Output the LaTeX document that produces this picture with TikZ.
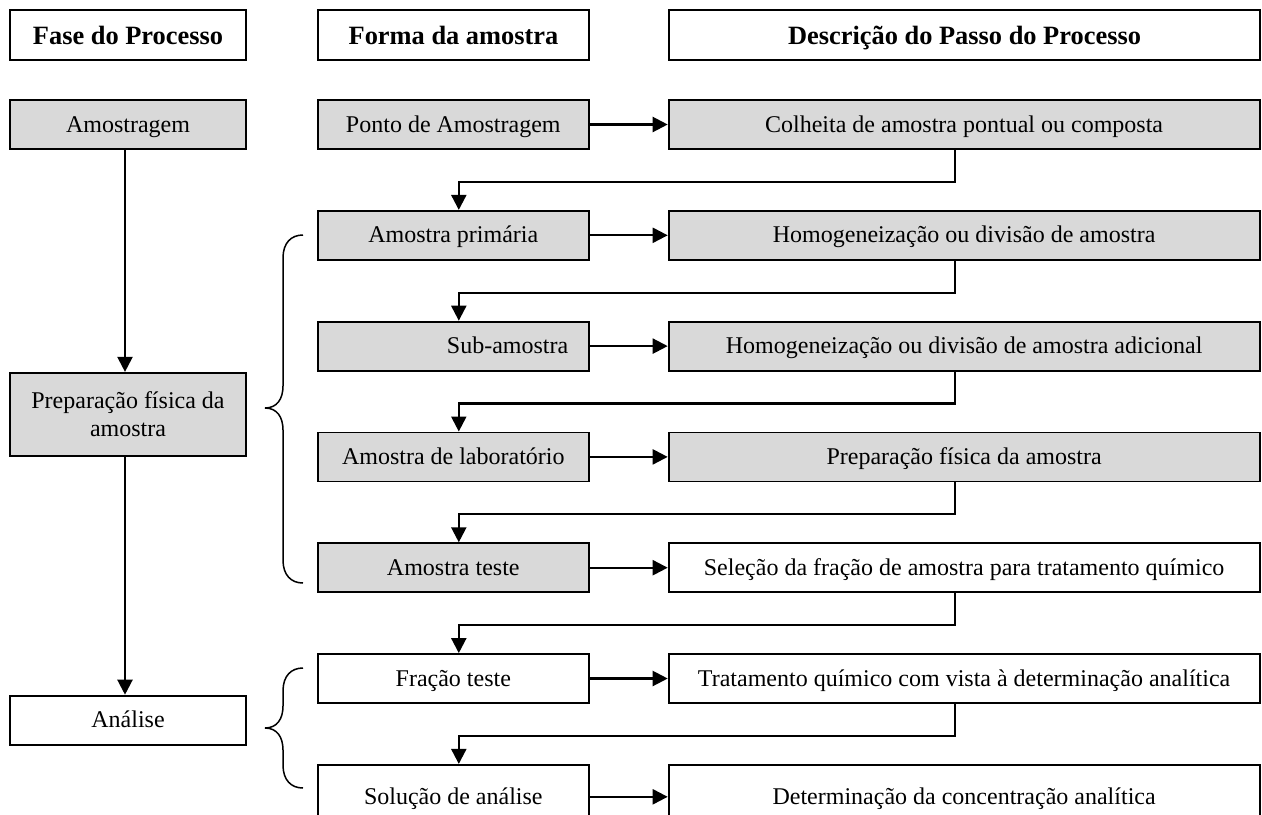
\documentclass[tikz,border=0pt]{standalone}
\usepackage{fontspec}
\setmainfont{Liberation Serif}
\usetikzlibrary{arrows.meta,positioning}
\definecolor{boxgray}{HTML}{D9D9D9}
\tikzset{
  post/.style={->,>={Triangle[length=7.5pt,width=7.5pt]},line width=1.1pt},
}

\begin{document}
\begin{tikzpicture}[x=0.5pt,y=-0.5pt,
        header/.style={rectangle, draw=black, line width=1pt, inner sep=0pt,
        minimum height=25pt, text height=10pt, text depth=1pt,
        font={\fontsize{13.2}{15}\selectfont\bfseries}},
        fasebox/.style={rectangle, draw=black, line width=0.9pt, inner sep=0pt,
        minimum width=118pt, minimum height=24.5pt, align=center,
        text height=9.5pt, text depth=2pt,
        font={\fontsize{12}{14}\selectfont}},
        formabox/.style={fasebox, minimum width=135.5pt},
        passobox/.style={fasebox, minimum width=295.5pt},
        shaded/.style={fill=boxgray},
        node distance=30pt
        ]
    \useasboundingbox (0,0) rectangle (1262,814);

    % headers
    \node[header, minimum width=118pt] (hfase) at (128,35) {Fase do Processo};
    \node[header, minimum width=135.5pt, right=35pt of hfase] (hforma) {Forma da amostra};
    \node[header, minimum width=295.5pt, right=39pt of hforma] (hpasso) {Descrição do Passo do Processo};

    % process phases
    \node[fasebox, shaded] (fase1) at (128,124.5) {Amostragem};
    \node[fasebox, shaded, minimum height=41.5pt, text height={}, text depth={},
          below=111pt of fase1] (fase2) {Preparação física da\\amostra};
    \node[fasebox, below=119pt of fase2] (fase3) {Análise};

    % sample forms and steps
    \node[formabox, shaded, right=35pt of fase1] (forma1) {Ponto de Amostragem};
    \node[passobox, shaded, right=39pt of forma1] (passo1) {Colheita de amostra pontual ou composta};
    \node[formabox, shaded, below=of forma1] (forma2) {Amostra primária};
    \node[passobox, shaded, right=39pt of forma2] (passo2) {Homogeneização ou divisão de amostra};
    \node[formabox, shaded, below=of forma2, text width=115pt, align=right] (forma3) {Sub-amostra};
    \node[passobox, shaded, right=39pt of forma3] (passo3) {Homogeneização ou divisão de amostra adicional};
    \node[formabox, shaded, below=of forma3] (forma4) {Amostra de laboratório};
    \node[passobox, shaded, right=39pt of forma4] (passo4) {Preparação física da amostra};
    \node[formabox, shaded, below=of forma4] (forma5) {Amostra teste};
    \node[passobox, right=39pt of forma5] (passo5) {Seleção da fração de amostra para tratamento químico};
    \node[formabox, below=of forma5] (forma6) {Fração teste};
    \node[passobox, right=39pt of forma6] (passo6) {Tratamento químico com vista à determinação analítica};
    \node[formabox, minimum height=32pt, below=of forma6] (forma7) {Solução de análise};
    \node[passobox, minimum height=32pt, right=39pt of forma7] (passo7) {Determinação da concentração analítica};

    \draw[post] ([xshift=-1.5pt]fase1.south) -- ([xshift=-1.5pt]fase2.north);
    \draw[post] ([xshift=-1.5pt]fase2.south) -- ([xshift=-1.5pt]fase3.north);

    \path[post] (forma1) edge (passo1);
    \path[post] (forma2) edge (passo2);
    \path[post] (forma3) edge (passo3);
    \path[post] (forma4) edge (passo4);
    \path[post] (forma5) edge (passo5);
    \path[post] (forma6) edge (passo6);
    \path[post] (forma7) edge (passo7);

    \draw[post] ([xshift=-4.75pt]passo1.south) -- ++(0,32) -| ([xshift=2.75pt]forma2.north);
    \draw[post] ([xshift=-4.75pt]passo2.south) -- ++(0,32) -| ([xshift=2.75pt]forma3.north);
    \draw[post] ([xshift=-4.75pt]passo3.south) -- ++(0,32) -| ([xshift=2.75pt]forma4.north);
    \draw[post] ([xshift=-4.75pt]passo4.south) -- ++(0,32) -| ([xshift=2.75pt]forma5.north);
    \draw[post] ([xshift=-4.75pt]passo5.south) -- ++(0,32) -| ([xshift=2.75pt]forma6.north);
    \draw[post] ([xshift=-4.75pt]passo6.south) -- ++(0,32) -| ([xshift=2.75pt]forma7.north);

    % braces
    \draw[line width=0.75pt] (303,235) .. controls (291,235) and (283,243) .. (283,258)
        -- (283,386) .. controls (283,399) and (277,408) .. (265,408)
        .. controls (277,408) and (283,417) .. (283,430)
        -- (283,560) .. controls (283,575) and (291,583) .. (303,583);
    \draw[line width=0.75pt] (303,668) .. controls (291,668) and (283,676) .. (283,691)
        -- (283,706) .. controls (283,719) and (277,728) .. (265,728)
        .. controls (277,728) and (283,737) .. (283,750)
        -- (283,765) .. controls (283,780) and (291,788) .. (303,788);

  \end{tikzpicture}
\end{document}
